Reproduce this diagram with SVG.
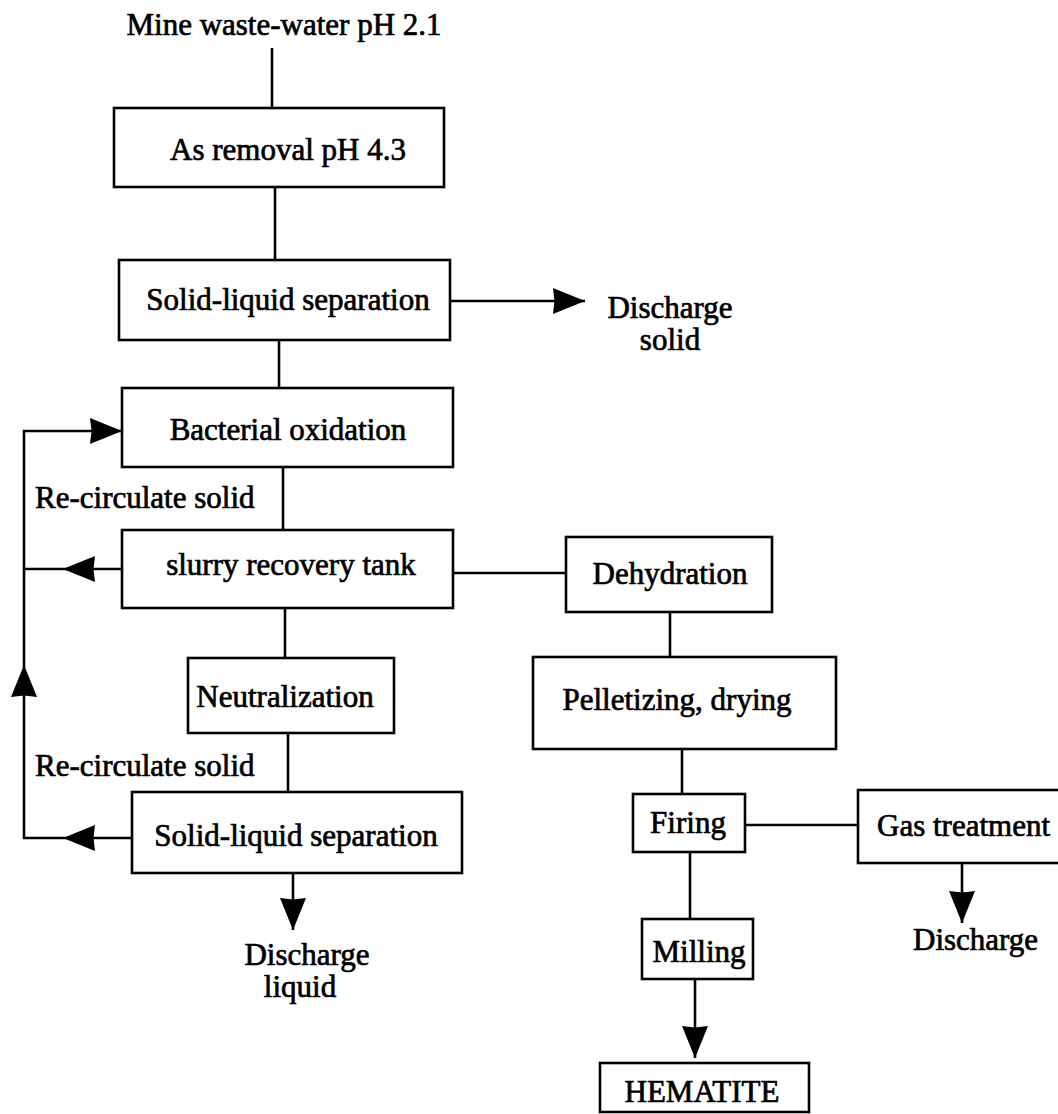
<svg xmlns="http://www.w3.org/2000/svg" width="1058" height="1114" viewBox="0 0 1058 1114">
<style>
.box{fill:#fff;stroke:#000;stroke-width:2.6}
.ln{fill:none;stroke:#000;stroke-width:2.6}
text{font-family:"Liberation Serif","Times New Roman",serif;font-size:31px;fill:#000;stroke:#000;stroke-width:0.7}
.c{text-anchor:middle}
</style>
<defs>
<marker id="ah" viewBox="0 0 32 26" refX="32" refY="13" markerWidth="32" markerHeight="26" markerUnits="userSpaceOnUse" orient="auto">
<path d="M0,0 L32,13 L0,26 L1.5,13 Z" fill="#000"/>
</marker>
</defs>
<rect width="1058" height="1114" fill="#fff"/>
<g id="connectors">
<path class="ln" d="M272,48 V108"/>
<path class="ln" d="M275,187 V260"/>
<path class="ln" d="M450,301 H585" marker-end="url(#ah)"/>
<path class="ln" d="M279,340 V388"/>
<path class="ln" d="M283,467 V530"/>
<path class="ln" d="M122,569 H63" marker-end="url(#ah)"/>
<path class="ln" d="M63,569 H24"/>
<path class="ln" d="M453,573 H566"/>
<path class="ln" d="M285,608 V658"/>
<path class="ln" d="M288,733 V792"/>
<path class="ln" d="M132,838 H63" marker-end="url(#ah)"/>
<path class="ln" d="M63,838 H24 V665" marker-end="url(#ah)"/>
<path class="ln" d="M24,665 V431 H122" marker-end="url(#ah)"/>
<path class="ln" d="M293,873 V930" marker-end="url(#ah)"/>
<path class="ln" d="M670,612 V657"/>
<path class="ln" d="M682,749 V794"/>
<path class="ln" d="M745,825 H858"/>
<path class="ln" d="M962,863 V923" marker-end="url(#ah)"/>
<path class="ln" d="M690,852 V919"/>
<path class="ln" d="M695,979 V1058" marker-end="url(#ah)"/>
</g>
<g id="source"><text class="c" x="284" y="35">Mine waste-water pH 2.1</text></g>
<g id="as-removal"><rect class="box" x="114" y="108" width="330" height="79"/><text class="c" x="288" y="160">As removal pH 4.3</text></g>
<g id="sls1"><rect class="box" x="119" y="260" width="331" height="80"/><text class="c" x="288" y="310">Solid-liquid separation</text></g>
<g id="discharge-solid"><text class="c" x="670" y="318">Discharge</text><text class="c" x="670" y="350">solid</text></g>
<g id="bacterial"><rect class="box" x="122" y="388" width="331" height="79"/><text class="c" x="288" y="440">Bacterial oxidation</text></g>
<g id="recirc1"><text x="35" y="508">Re-circulate solid</text></g>
<g id="slurry"><rect class="box" x="122" y="530" width="331" height="78"/><text class="c" x="291" y="575">slurry recovery tank</text></g>
<g id="dehydration"><rect class="box" x="566" y="537" width="206" height="75"/><text class="c" x="670" y="584">Dehydration</text></g>
<g id="neutralization"><rect class="box" x="188" y="658" width="206" height="75"/><text class="c" x="285" y="707">Neutralization</text></g>
<g id="pelletizing"><rect class="box" x="533" y="657" width="303" height="92"/><text class="c" x="677" y="710">Pelletizing, drying</text></g>
<g id="recirc2"><text x="35" y="776">Re-circulate solid</text></g>
<g id="sls2"><rect class="box" x="132" y="792" width="330" height="81"/><text class="c" x="296" y="846">Solid-liquid separation</text></g>
<g id="discharge-liquid"><text class="c" x="307" y="965">Discharge</text><text class="c" x="300" y="997">liquid</text></g>
<g id="firing"><rect class="box" x="633" y="794" width="112" height="58"/><text class="c" x="688" y="833">Firing</text></g>
<g id="gas"><rect class="box" x="858" y="790" width="204" height="73"/><text x="877" y="836">Gas treatment</text></g>
<g id="discharge-gas"><text x="913" y="950">Discharge</text></g>
<g id="milling"><rect class="box" x="642" y="919" width="111" height="60"/><text class="c" x="699" y="962">Milling</text></g>
<g id="hematite"><rect class="box" x="600" y="1063" width="209" height="49"/><text class="c" x="702" y="1102">HEMATITE</text></g>
</svg>
